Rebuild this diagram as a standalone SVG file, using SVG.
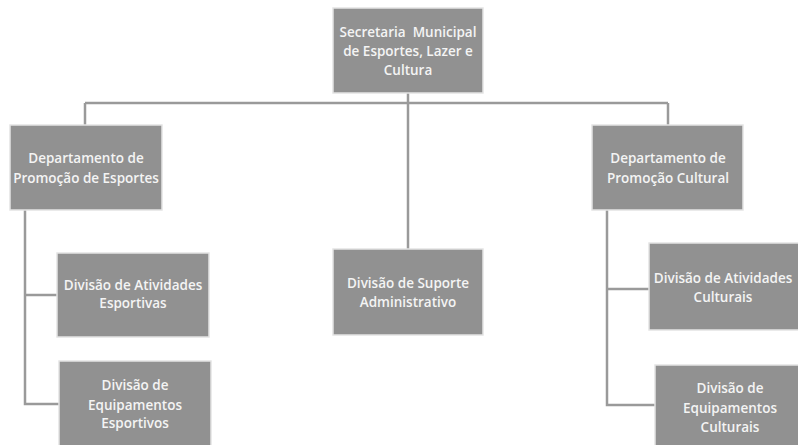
<svg xmlns="http://www.w3.org/2000/svg" width="798" height="445" viewBox="0 0 798 445">
<style>
.box{fill:#919191;stroke:#e4e4e4;stroke-width:1.5}
.t{font-family:"Open Sans","Noto Sans",sans-serif;font-weight:600;font-size:13.5px;fill:#f4f4f4;text-anchor:middle}
.c{stroke:#9a9a9a;stroke-width:2.5;fill:none}
</style>
<rect width="798" height="445" fill="#ffffff"/>
<g id="connectors">
<path class="c" d="M408,93 V249"/>
<path class="c" d="M85,103 H668"/>
<path class="c" d="M85,103 V125"/>
<path class="c" d="M668,103 V125"/>
<path class="c" d="M25,210 V404 H59"/>
<path class="c" d="M25,295 H57"/>
<path class="c" d="M607,210 V405 H655"/>
<path class="c" d="M607,289 H649"/>
</g>
<g id="secretaria">
<rect class="box" x="333" y="8" width="150" height="85"/>
<text class="t" x="408" y="37">Secretaria&#160; Municipal</text>
<text class="t" x="408" y="56">de Esportes, Lazer e</text>
<text class="t" x="408" y="75">Cultura</text>
</g>
<g id="dep-esportes">
<rect class="box" x="10" y="125" width="152" height="85"/>
<text class="t" x="86" y="163">Departamento de</text>
<text class="t" x="86" y="183">Promoção de Esportes</text>
</g>
<g id="dep-cultural">
<rect class="box" x="592" y="125" width="151" height="85"/>
<text class="t" x="668" y="163">Departamento de</text>
<text class="t" x="668" y="183">Promoção Cultural</text>
</g>
<g id="div-suporte">
<rect class="box" x="333" y="249" width="150" height="86"/>
<text class="t" x="408" y="288">Divisão de Suporte</text>
<text class="t" x="408" y="307">Administrativo</text>
</g>
<g id="div-ativ-esportivas">
<rect class="box" x="57" y="253" width="152" height="84"/>
<text class="t" x="133" y="290">Divisão de Atividades</text>
<text class="t" x="133" y="308">Esportivas</text>
</g>
<g id="div-equip-esportivos">
<rect class="box" x="59" y="361" width="152" height="90"/>
<text class="t" x="135" y="390">Divisão de</text>
<text class="t" x="135" y="410">Equipamentos</text>
<text class="t" x="135" y="428">Esportivos</text>
</g>
<g id="div-ativ-culturais">
<rect class="box" x="649" y="243" width="152" height="87"/>
<text class="t" x="723" y="283">Divisão de Atividades</text>
<text class="t" x="723" y="302">Culturais</text>
</g>
<g id="div-equip-culturais">
<rect class="box" x="655" y="365" width="150" height="86"/>
<text class="t" x="730" y="393">Divisão de</text>
<text class="t" x="730" y="413">Equipamentos</text>
<text class="t" x="730" y="432">Culturais</text>
</g>
</svg>
